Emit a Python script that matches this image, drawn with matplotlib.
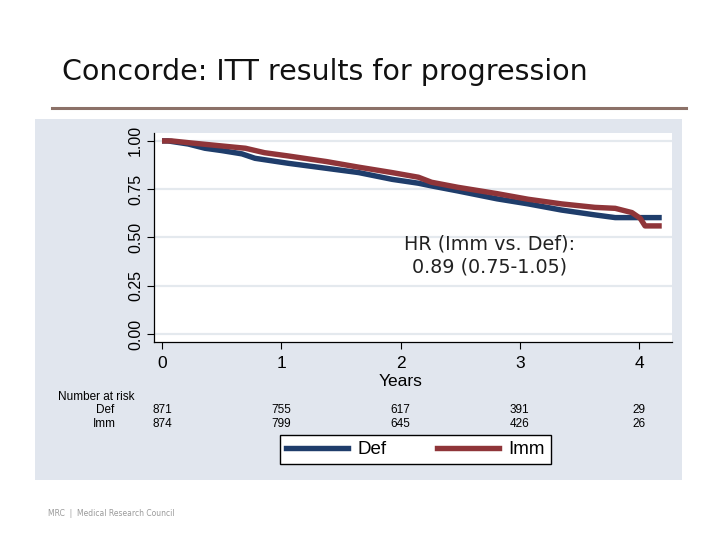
import matplotlib
matplotlib.use("Agg")
import matplotlib.pyplot as plt
from matplotlib.patches import Rectangle
from matplotlib.lines import Line2D

# Kaplan-Meier estimates
def_years = [0, 0.05, 0.22, 0.36, 0.5, 0.67, 0.78, 1.06, 1.38, 1.65, 1.93, 2.15, 2.26,
             2.48, 2.81, 3.07, 3.35, 3.63, 3.80, 4.19]
def_surv = [1.0, 1.0, 0.984, 0.962, 0.950, 0.933, 0.910, 0.884, 0.858, 0.836, 0.801, 0.781, 0.767,
            0.741, 0.700, 0.674, 0.642, 0.617, 0.603, 0.603]

imm_years = [0, 0.08, 0.22, 0.5, 0.70, 0.86, 1.06, 1.38, 1.65, 1.93, 2.15, 2.26, 2.48,
             2.81, 3.07, 3.35, 3.63, 3.80, 3.94, 4.01, 4.05, 4.19]
imm_surv = [1.0, 1.0, 0.991, 0.974, 0.962, 0.939, 0.922, 0.893, 0.864, 0.836, 0.812, 0.786, 0.760,
            0.727, 0.698, 0.674, 0.656, 0.651, 0.629, 0.599, 0.560, 0.560]

risk_times = [0, 1, 2, 3, 4]
risk_def = [871, 755, 617, 391, 29]
risk_imm = [874, 799, 645, 426, 26]

navy = "#1f3d6b"
maroon = "#8f3539"
W, H = 720, 540

fig = plt.figure(figsize=(7.2, 5.4), dpi=100)
fig.patch.set_facecolor("white")

def fx(px):
    return px / W

def fy(py):
    return 1 - py / H

fig.text(fx(62), fy(80), "Concorde: ITT results for progression", fontsize=20.5,
         family="DejaVu Sans", color="#111111", va="baseline", ha="left")
fig.add_artist(Line2D([fx(52), fx(686)], [fy(108), fy(108)], color="#8c7168", lw=2.2))
fig.add_artist(Rectangle((fx(35), fy(480)), fx(647), 361 / H, facecolor="#e1e6ee",
                         edgecolor="none", zorder=0))

ax = fig.add_axes([fx(154), fy(342), fx(672 - 154), (342 - 133) / H])
ax.set_facecolor("white")
ax.plot(def_years, def_surv, color=navy, lw=3.9, solid_capstyle="butt", zorder=3)
ax.plot(imm_years, imm_surv, color=maroon, lw=3.9, solid_capstyle="butt", zorder=4)

ax.set_xlim(-0.067, 4.276)
ax.set_ylim(-0.041, 1.041)
ax.set_yticks([0, 0.25, 0.5, 0.75, 1.0])
ax.set_yticklabels(["0.00", "0.25", "0.50", "0.75", "1.00"], rotation=90, va="center",
                   family="Liberation Sans", fontsize=11.5)
ax.set_xticks(risk_times)
ax.set_xticklabels([str(t) for t in risk_times], family="Liberation Sans", fontsize=12.5)
ax.grid(axis="y", color="#e4e9ee", lw=1.6, zorder=1)
ax.set_axisbelow(True)
ax.tick_params(axis="both", length=5, width=0.8, color="black")
ax.tick_params(axis="x", pad=5)
ax.tick_params(axis="y", pad=3)
for s in ["top", "right"]:
    ax.spines[s].set_visible(False)
for s in ["left", "bottom"]:
    ax.spines[s].set_linewidth(0.9)

ax.text(2, -0.245, "Years", ha="center", va="center", family="Liberation Sans", fontsize=12.5,
        transform=ax.transData, clip_on=False)
ax.text(2.75, 0.405, "HR (Imm vs. Def):\n0.89 (0.75-1.05)", ha="center", va="center",
        family="DejaVu Sans", fontsize=13.8, color="#222222", linespacing=1.25)

narrow = ["Liberation Sans Narrow", "Liberation Sans", "DejaVu Sans"]
fig.text(fx(58), fy(397), "Number at risk", family=narrow, fontsize=8.5, va="center", ha="left")
fig.text(fx(105), fy(410), "Def", family=narrow, fontsize=8.5, va="center", ha="center")
fig.text(fx(104), fy(424), "Imm", family=narrow, fontsize=8.5, va="center", ha="center")
for t, nd, ni in zip(risk_times, risk_def, risk_imm):
    xd = ax.transData.transform((t, 0))[0] / fig.dpi / fig.get_figwidth()
    fig.text(xd, fy(410), str(nd), family=narrow, fontsize=8.5, va="center", ha="center")
    fig.text(xd, fy(424), str(ni), family=narrow, fontsize=8.5, va="center", ha="center")

handles = [Line2D([], [], color=navy, lw=3.9), Line2D([], [], color=maroon, lw=3.9)]
leg = fig.legend(handles, ["Def", "Imm"], loc="center", bbox_to_anchor=(fx(415.5), fy(449.5)),
                 ncol=2, frameon=True, fancybox=False, edgecolor="black", facecolor="white",
                 framealpha=1, handlelength=3.3, handletextpad=0.5, columnspacing=2.7,
                 borderpad=0.3, prop={"family": "Liberation Sans", "size": 13.5})
leg.get_frame().set_linewidth(1.0)

fig.text(fx(48), fy(514), "MRC  |  Medical Research Council", family="DejaVu Sans", fontsize=5.5,
         color="#9a9a9a", va="center", ha="left")

plt.savefig("out.png", dpi=100)
